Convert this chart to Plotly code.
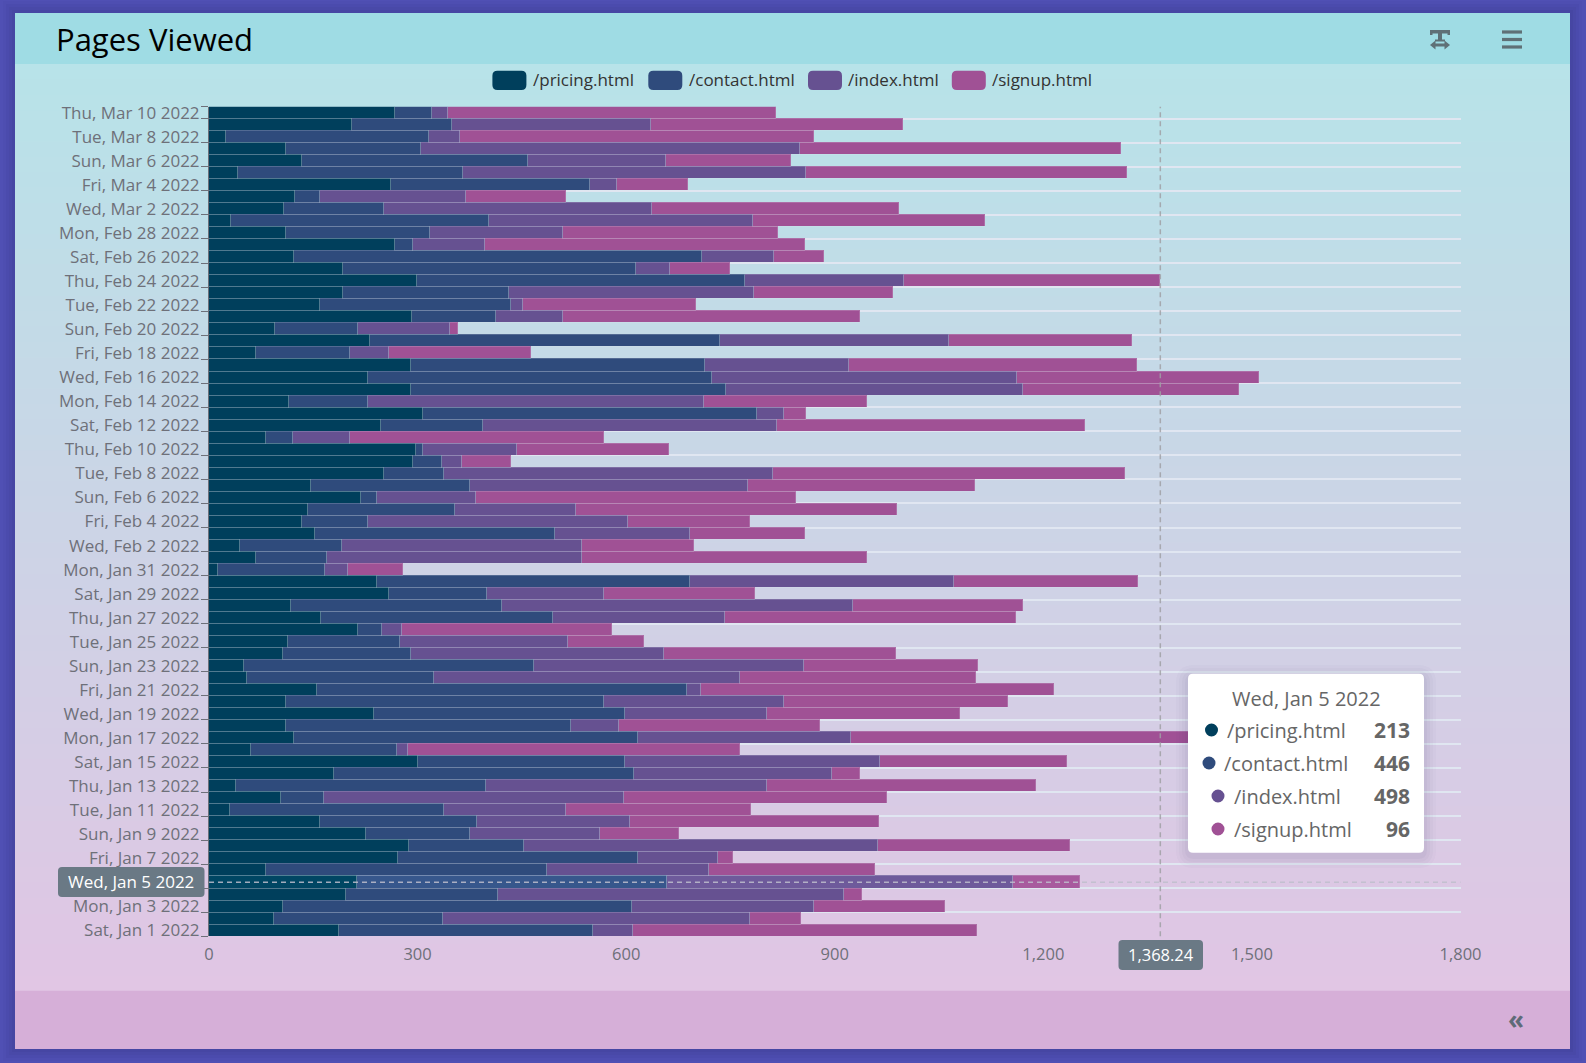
import pandas as pd
import plotly.graph_objects as go

W, H = 1586, 1063
FONT = "Open Sans"

# values per day, newest first (Mar 10 2022 -> Jan 1 2022)
rows = [
    (267, 54, 23, 472), (205, 145, 285, 363), (24, 293, 44, 509), (111, 194, 545, 461),
    (134, 325, 199, 179), (41, 325, 493, 462), (262, 286, 39, 102), (123, 36, 210, 145),
    (108, 144, 385, 355), (32, 371, 380, 333), (111, 207, 191, 309), (268, 26, 103, 460),
    (122, 587, 103, 73), (193, 421, 49, 86), (299, 472, 228, 369), (193, 239, 352, 200),
    (159, 276, 16, 250), (292, 121, 96, 428), (95, 119, 133, 11), (232, 503, 329, 264),
    (68, 135, 56, 204), (290, 423, 208, 413), (229, 494, 439, 348), (290, 454, 427, 310),
    (115, 114, 483, 234), (308, 480, 39, 32), (248, 146, 423, 443), (82, 39, 82, 365),
    (298, 10, 135, 218), (293, 42, 29, 71), (252, 86, 473, 507), (147, 228, 400, 326),
    (219, 23, 142, 460), (143, 211, 174, 461), (134, 94, 375, 175), (153, 345, 194, 165),
    (44, 148, 345, 161), (68, 102, 367, 410), (13, 154, 33, 79), (242, 450, 379, 265),
    (259, 141, 168, 217), (118, 304, 504, 245), (161, 334, 247, 418), (215, 34, 29, 301),
    (114, 161, 242, 108), (107, 183, 365, 333), (50, 418, 388, 250), (55, 268, 441, 339),
    (156, 532, 19, 509), (111, 457, 259, 322), (238, 361, 204, 277), (111, 410, 69, 289),
    (122, 495, 306, 517), (61, 210, 15, 478), (301, 297, 367, 269), (180, 431, 285, 40),
    (39, 360, 403, 388), (103, 63, 431, 378), (30, 308, 176, 265), (160, 225, 220, 358),
    (226, 149, 187, 114), (288, 165, 509, 276), (272, 345, 115, 22), (82, 404, 233, 239),
    (213, 446, 498, 96), (197, 219, 498, 25), (107, 501, 262, 188), (94, 242, 442, 74),
    (187, 365, 58, 494),
]
pages = ["/pricing.html", "/contact.html", "/index.html", "/signup.html"]
colors = ["#003f5c", "#2f4b7c", "#665191", "#a05195"]
active = ["#004663", "#37578c", "#6e5a9b", "#a85a9e"]

df = pd.DataFrame(rows, columns=pages)
dates = pd.date_range("2022-03-10", periods=len(df), freq="-1D")
df["day"] = [d.strftime("%a, %b ") + str(d.day) + d.strftime(" %Y") for d in dates]
df = df.iloc[::-1].reset_index(drop=True)   # Jan 1 at the bottom
hover_day = "Wed, Jan 5 2022"


def px(x):
    return x / W


def py(y):
    return 1 - y / H


def round_box(x0, y0, x1, y1, r):
    a, b, c, d = px(x0), py(y0), px(x1), py(y1)
    rx, ry = r / W, r / H
    return (f"M{a + rx},{b} L{c - rx},{b} Q{c},{b} {c},{b - ry} L{c},{d + ry} Q{c},{d} {c - rx},{d} "
            f"L{a + rx},{d} Q{a},{d} {a},{d + ry} L{a},{b - ry} Q{a},{b} {a + rx},{b} Z")


def box(x0, y0, x1, y1, color, layer="below"):
    return dict(type="rect", xref="paper", yref="paper", x0=px(x0), x1=px(x1), y0=py(y0), y1=py(y1),
                fillcolor=color, line_width=0, layer=layer)


def rbox(x0, y0, x1, y1, r, color, layer="above"):
    return dict(type="path", xref="paper", yref="paper", path=round_box(x0, y0, x1, y1, r),
                fillcolor=color, line_width=0, layer=layer)


def mix(c1, c2, t):
    return "rgb(%d,%d,%d)" % tuple(c1[i] + (c2[i] - c1[i]) * t for i in range(3))


def label(x, y, text, size, color="#666666", anchor="left", bold=False):
    return dict(xref="paper", yref="paper", x=px(x), y=py(y), text=f"<b>{text}</b>" if bold else text,
                showarrow=False, xanchor=anchor, yanchor="middle",
                font=dict(family=FONT, size=size, color=color))


fig = go.Figure()
for i, page in enumerate(pages):
    bar_colors = [active[i] if d == hover_day else colors[i] for d in df["day"]]
    fig.add_trace(go.Bar(y=df["day"], x=df[page], name=page, orientation="h",
                         marker=dict(color=bar_colors, line=dict(color="rgba(224,230,241,0.2)", width=1))))

shapes = []
# card shadow
for g, alpha in [(12, 0.03), (9, 0.04), (6, 0.05), (3, 0.06)]:
    shapes.append(box(15 - g, 13 - g, 1570 + g, 1049 + g, f"rgba(30,30,80,{alpha})"))
# card body, header and footer
n = 60
for k in range(n):
    y0 = 64 + (990.7 - 64) * k / n
    y1 = 64 + (990.7 - 64) * (k + 1) / n + 2
    shapes.append(box(15, y0, 1570, min(y1, 991), mix((184, 227, 233), (225, 198, 228), k / (n - 1))))
shapes.append(box(15, 13, 1570, 64, "#9fdce4"))
shapes.append(box(15, 990.7, 1570, 1049, "#d6afd8"))

# axis pointers
shapes.append(dict(type="line", xref="x", yref="paper", x0=1368.24, x1=1368.24, y0=py(936.3), y1=py(106.7),
                   line=dict(color="rgba(160,160,165,0.85)", width=1.5, dash="5px,4px"), layer="above"))
shapes.append(dict(type="line", xref="paper", yref="y", x0=px(209), x1=px(1460.5), y0=hover_day, y1=hover_day,
                   line=dict(color="rgba(190,190,205,0.85)", width=1.5, dash="5px,4px"), layer="above"))
shapes.append(rbox(58, 867, 204.5, 897, 4, "#6a7985"))
shapes.append(rbox(1118.5, 940, 1203, 970, 4, "#6a7985"))

# legend swatches
legend_x = [(492.4, 531), (648.3, 686.5), (808, 846), (951.8, 989.5)]
for (sx, tx), c in zip(legend_x, colors):
    shapes.append(rbox(sx, 70.7, sx + 34, 90, 5, c, layer="below"))

# tooltip
for g, alpha in [(12, 0.02), (9, 0.025), (6, 0.03), (3, 0.04)]:
    shapes.append(rbox(1188 - g, 677 - g, 1424 + g, 856 + g, 6 + g, f"rgba(60,50,90,{alpha})"))
shapes.append(rbox(1188, 673.7, 1424, 852.7, 5, "#ffffff"))
tip_rows = [(730, 1211.5, 1225), (763, 1209, 1222), (796, 1218, 1231.5), (829, 1218, 1231.5)]
for (ty, dx, tx), c in zip(tip_rows, colors):
    shapes.append(dict(type="circle", xref="paper", yref="paper", x0=px(dx - 6.5), x1=px(dx + 6.5),
                       y0=py(ty + 6.5), y1=py(ty - 6.5), fillcolor=c, line_width=0, layer="above"))

# toolbar icons
ic = "#5f7076"
for ty in (32, 39.5, 47):
    shapes.append(box(1502, ty - 1.6, 1522, ty + 1.6, ic, layer="above"))
shapes.append(box(1430, 30, 1450, 33.5, ic, layer="above"))
shapes.append(box(1430, 30, 1432.5, 35, ic, layer="above"))
shapes.append(box(1447.5, 30, 1450, 35, ic, layer="above"))
shapes.append(box(1438, 30, 1442, 41, ic, layer="above"))
shapes.append(box(1435, 39.5, 1445, 41.5, ic, layer="above"))
shapes.append(box(1433, 43.5, 1447, 46.5, ic, layer="above"))
shapes.append(dict(type="path", xref="paper", yref="paper", layer="above", fillcolor=ic, line_width=0,
                   path=f"M{px(1430)},{py(45)} L{px(1435.5)},{py(40.5)} L{px(1435.5)},{py(49.5)} Z"))
shapes.append(dict(type="path", xref="paper", yref="paper", layer="above", fillcolor=ic, line_width=0,
                   path=f"M{px(1450)},{py(45)} L{px(1444.5)},{py(40.5)} L{px(1444.5)},{py(49.5)} Z"))

annotations = [
    label(54, 39.5, "Pages Viewed", 31, color="#000000"),
    label(131.2, 881.5, hover_day, 17, color="#ffffff", anchor="center"),
    label(1160.7, 954, "1,368.24", 16.5, color="#ffffff", anchor="center"),
    label(1306, 698.5, hover_day, 20, anchor="center"),
    label(1516, 1019, "«", 26, color="#5f6b78", anchor="center", bold=True),
]
for (sx, tx), page in zip(legend_x, pages):
    annotations.append(label(tx, 79, page, 17, color="#333333"))
for (ty, dx, tx), page in zip(tip_rows, pages):
    annotations.append(label(tx, ty, page, 20))
    annotations.append(label(1412, ty, str(df.loc[df["day"] == hover_day, page].iloc[0]), 21, anchor="right", bold=True))

fig.update_layout(
    width=W, height=H, margin=dict(l=0, r=0, t=0, b=0, autoexpand=False),
    paper_bgcolor="#5050b4", plot_bgcolor="rgba(0,0,0,0)",
    barmode="stack", bargap=0, showlegend=False,
    font=dict(family=FONT, color="#6E7079"),
    shapes=shapes, annotations=annotations,
)
fig.update_xaxes(domain=[px(209), px(1460.5)], range=[0, 1800], dtick=300, tickformat=",", showgrid=False,
                 zeroline=False, showline=False, ticks="outside", ticklen=3, tickcolor="rgba(0,0,0,0)",
                 tickfont=dict(size=16.5, color="#6E7079"), automargin=False)
# the Jan 5 label sits in the pointer box, so the axis leaves that one blank
tick_days = list(df["day"][::2])
fig.update_yaxes(domain=[py(936.3), py(106.7)], type="category", categoryorder="array",
                 categoryarray=list(df["day"]), tickmode="array", tickvals=tick_days,
                 ticktext=["" if d == hover_day else d for d in tick_days],
                 tickson="boundaries", ticks="outside", ticklen=7,
                 tickcolor="#6E7079", showline=True, linecolor="#6E7079", linewidth=1, showgrid=True,
                 gridcolor="#E0E6F1", gridwidth=1.7, tickfont=dict(size=17, color="#6E7079"), ticklabelstandoff=5,
                 automargin=False)

fig.write_html("out.html", config={"displayModeBar": False},
               post_script="document.body.style.margin='0';document.body.style.background='#5050b4';")
